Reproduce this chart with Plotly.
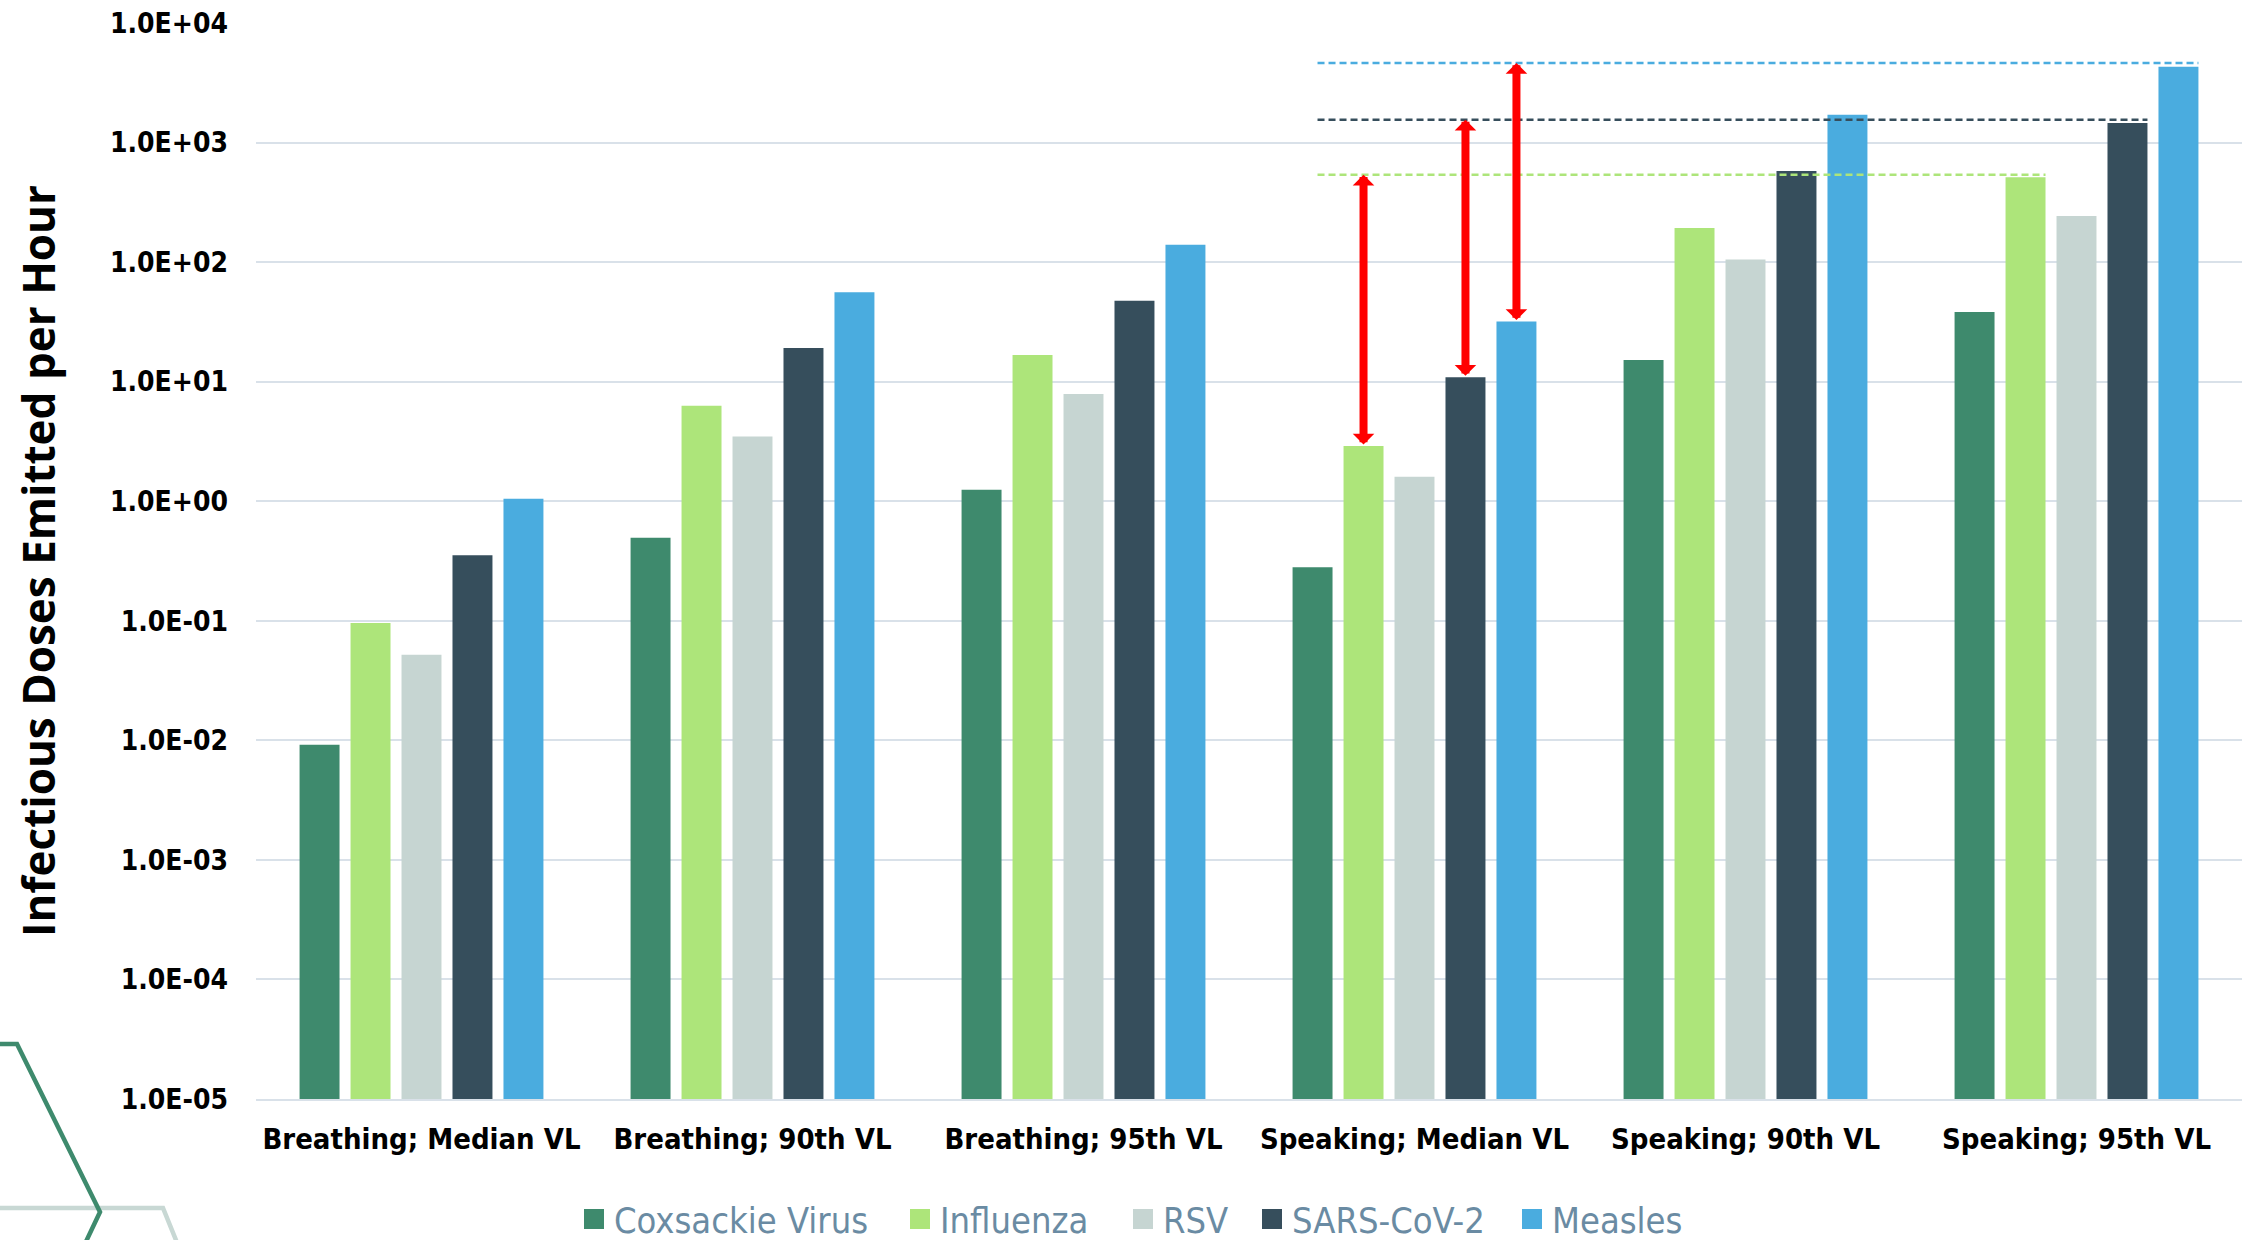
import math
import plotly.graph_objects as go

# ---- data -------------------------------------------------------------
categories = [
    "Breathing; Median VL", "Breathing; 90th VL", "Breathing; 95th VL",
    "Speaking; Median VL", "Speaking; 90th VL", "Speaking; 95th VL",
]
virus_names = ["Coxsackie Virus", "Influenza", "RSV", "SARS-CoV-2", "Measles"]

coxsackie = [0.0092, 0.495, 1.25, 0.28, 15.2, 38.2]
influenza = [0.096, 6.3, 16.7, 2.9, 193, 512]
rsv = [0.052, 3.47, 7.9, 1.6, 105, 243]
sars_cov_2 = [0.354, 19.1, 47.5, 10.9, 578, 1456]
measles = [1.05, 56, 140, 31.9, 1710, 4310]

tick_values = [1e-5, 1e-4, 1e-3, 1e-2, 1e-1, 1e0, 1e1, 1e2, 1e3, 1e4]
tick_labels = ["1.0E-05", "1.0E-04", "1.0E-03", "1.0E-02", "1.0E-01",
               "1.0E+00", "1.0E+01", "1.0E+02", "1.0E+03", "1.0E+04"]

# levels reached in the speaking / 95th VL scenario (dashed guides)
level_influenza = 538
level_sars = 1553
level_measles = 4630

series = [coxsackie, influenza, rsv, sars_cov_2, measles]
colors = ["#3E8A6D", "#ADE57A", "#C6D5D2", "#364E5C", "#4AACDF"]

# ---- geometry helpers -------------------------------------------------
W, H = 2247, 1240
M_L, M_R, M_T, M_B = 256, 5, 23, 141
BARGAP, BARGROUPGAP = 0.23, 0.216
N = len(series)
slot = (1 - BARGAP) / N
half_bar = slot * (1 - BARGROUPGAP) / 2

# horizontal position (px) of each legend swatch centre
LEGEND_SWATCH_X = [594, 920, 1143, 1272, 1532]
LEGEND_Y = 1219


def bar_x(cat_index, series_index):
    """Centre of a bar on the numeric category axis."""
    return cat_index + (series_index - (N - 1) / 2) * slot


def px_to_paper(px, py):
    pw = W - M_L - M_R
    ph = H - M_T - M_B
    return (px - M_L) / pw, (H - M_B - py) / ph


TICK_FONT = "DejaVu Sans Condensed, DejaVu Sans, sans-serif"

fig = go.Figure()

legend_layouts = {}
for i, (name, vals, col) in enumerate(zip(virus_names, series, colors)):
    legend_id = "legend" if i == 0 else f"legend{i + 1}"
    fig.add_trace(go.Bar(
        x=categories, y=vals, name=name, marker=dict(color=col, line=dict(width=0)),
        showlegend=False, legendgroup=name,
    ))
    # legend swatch (one small legend per virus so spacing can be set)
    fig.add_trace(go.Scatter(
        x=[None], y=[None], mode="markers", name=name, legendgroup=name,
        legend=legend_id,
        marker=dict(symbol="square", size=16, color=col, line=dict(color=col, width=4)),
    ))
    legend_layouts[legend_id] = dict(
        orientation="h", xref="container", yref="container",
        x=(LEGEND_SWATCH_X[i] - 20) / W, xanchor="left",
        y=1 - LEGEND_Y / H, yanchor="middle",
        font=dict(family=TICK_FONT, size=36, color="#6A8BA3"),
        itemsizing="trace", bgcolor="rgba(0,0,0,0)", borderwidth=0,
    )

# ---- dashed guide lines and red double-headed arrows -------------------
SPEAK_MED = categories.index("Speaking; Median VL")
SPEAK_95 = categories.index("Speaking; 95th VL")
guides = [
    (1, level_influenza, influenza, "#ADE57A"),
    (3, level_sars, sars_cov_2, "#364E5C"),
    (4, level_measles, measles, "#4AACDF"),
]
shapes = []
annotations = []
for idx, level, vals, col in guides:
    shapes.append(dict(
        type="line", xref="x", yref="y",
        x0=bar_x(SPEAK_MED, 0) + 0.015, x1=bar_x(SPEAK_95, idx) + half_bar,
        y0=level, y1=level,
        line=dict(color=col, width=2.5, dash="7px,4px"),
    ))
    xa = bar_x(SPEAK_MED, idx)
    annotations.append(dict(
        x=xa, y=math.log10(level), ax=xa, ay=math.log10(vals[SPEAK_MED]),
        xref="x", yref="y", axref="x", ayref="y", text="",
        showarrow=True, arrowside="end+start",
        arrowhead=1, startarrowhead=1, arrowsize=0.45, startarrowsize=0.45,
        arrowwidth=8, arrowcolor="#FF0000", standoff=0, startstandoff=0,
    ))

# ---- decorative hexagon strokes at lower left ---------------------------
def path_from_px(points):
    pts = [px_to_paper(x, y) for x, y in points]
    return "M" + " L".join(f"{x:.5f},{y:.5f}" for x, y in pts)


shapes.append(dict(type="path", xref="paper", yref="paper", layer="above",
                   path=path_from_px([(-10, 1208), (163, 1208), (180, 1250)]),
                   line=dict(color="#C8D8D4", width=4.5)))
shapes.append(dict(type="path", xref="paper", yref="paper", layer="above",
                   path=path_from_px([(-10, 1044), (17, 1044), (100, 1212), (82, 1250)]),
                   line=dict(color="#3E8A6D", width=4.5)))

fig.update_layout(
    width=W, height=H,
    margin=dict(l=M_L, r=M_R, t=M_T, b=M_B),
    paper_bgcolor="white", plot_bgcolor="white",
    barmode="group", bargap=BARGAP, bargroupgap=BARGROUPGAP,
    shapes=shapes, annotations=annotations,
    xaxis=dict(
        type="category", range=[-0.5, len(categories) - 0.5],
        showgrid=False, showline=True, linecolor="#D9E1E9", linewidth=2,
        tickfont=dict(family=TICK_FONT, size=29, color="black", weight="bold"),
        ticks="", ticklabelstandoff=13, zeroline=False,
    ),
    yaxis=dict(
        type="log", range=[-5, 4],
        tickvals=tick_values, ticktext=tick_labels,
        showgrid=True, gridcolor="#D9E1E9", gridwidth=2,
        zeroline=False, showline=False, ticks="", ticklabelstandoff=27,
        tickfont=dict(family=TICK_FONT, size=28, color="black", weight="bold"),
        title=dict(text="Infectious Doses Emitted per Hour", standoff=40,
                   font=dict(family="Open Sans, sans-serif", size=44,
                             color="black", weight="bold")),
    ),
    **legend_layouts,
)

fig.write_html("out.html")
